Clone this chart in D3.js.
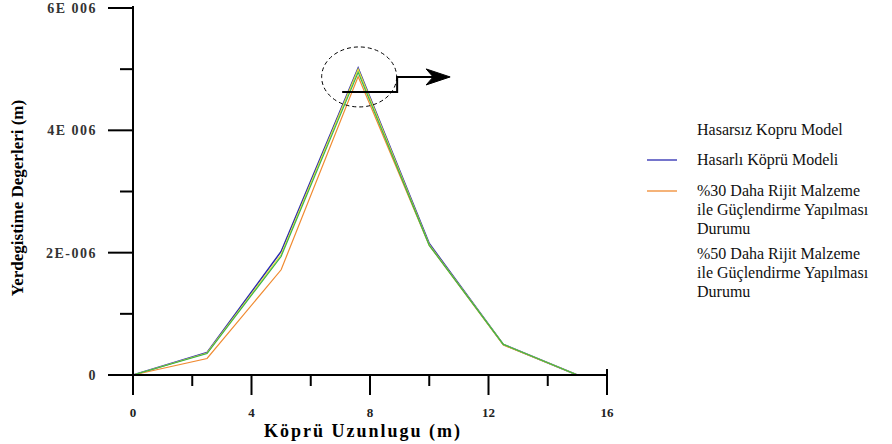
<!DOCTYPE html>
<html>
<head>
<meta charset="utf-8">
<script src="https://cdn.jsdelivr.net/npm/d3@7/dist/d3.min.js"></script>
<style>
  html, body { margin: 0; padding: 0; background: #fff; }
  svg { display: block; }
</style>
</head>
<body>
<svg id="chart" width="892" height="444"></svg>
<script>
// ---- data ----
const positions = [0, 2.5, 5, 7.6, 10, 12.5, 15];          // Köprü Uzunlugu (m)
const hasarsiz  = [0, 0.36e-6, 1.97e-6, 5.0e-6, 2.13e-6, 0.50e-6, 0];
const hasarli   = [0, 0.37e-6, 2.02e-6, 5.02e-6, 2.15e-6, 0.50e-6, 0];
const rijit30   = [0, 0.27e-6, 1.72e-6, 4.88e-6, 2.12e-6, 0.49e-6, 0];
const rijit50   = [0, 0.35e-6, 1.94e-6, 4.95e-6, 2.12e-6, 0.50e-6, 0];
const xTicks = [0, 4, 8, 12, 16];
const xMinorTicks = [2, 6, 10, 14];
const yTicks = [0, 2e-6, 4e-6, 6e-6];
const yTickLabels = ["0", "2E-006", "4E 006", "6E 006"];
const yMinorTicks = [1e-6, 3e-6, 5e-6];
const seriesNames = [
  ["Hasarsız Kopru Model"],
  ["Hasarlı Köprü Modeli"],
  ["%30 Daha Rijit Malzeme", "ile Güçlendirme Yapılması", "Durumu"],
  ["%50 Daha Rijit Malzeme", "ile Güçlendirme Yapılması", "Durumu"]
];
const seriesValues = [hasarsiz, hasarli, rijit30, rijit50];
const seriesColors = ["#e6e23a", "#2b2bb0", "#f08a30", "#3cb44a"];
const legendSwatch = [false, true, true, false];
const xTitle = "Köprü Uzunlugu (m)";
const yTitle = "Yerdegistime Degerleri (m)";

// ---- layout ----
const svg = d3.select("#chart");
const FONT = "Liberation Serif";
const x = d3.scaleLinear().domain([0, 16]).range([133, 607]);
const y = d3.scaleLinear().domain([0, 6e-6]).range([375, 8]);

// series lines
const line = d3.line().x((d, i) => x(positions[i])).y(d => y(d));
const drawOrder = [1, 2, 0, 3];
drawOrder.forEach(k => {
  svg.append("path")
    .datum(seriesValues[k])
    .attr("d", line)
    .attr("fill", "none")
    .attr("stroke", seriesColors[k])
    .attr("stroke-width", k === 1 ? 1.5 : 1.2);
});

// x axis
const xAxisG = svg.append("g").attr("transform", "translate(0,375)");
xAxisG.append("line").attr("x1", 108).attr("x2", 608).attr("y1", 0).attr("y2", 0)
  .attr("stroke", "#000").attr("stroke-width", 2);
xAxisG.selectAll(".xmaj").data(xTicks).enter().append("line")
  .attr("x1", d => x(d)).attr("x2", d => x(d))
  .attr("y1", d => d === 16 ? -6 : 0).attr("y2", 20)
  .attr("stroke", "#000").attr("stroke-width", 2);
xAxisG.selectAll(".xmin").data(xMinorTicks).enter().append("line")
  .attr("x1", d => x(d)).attr("x2", d => x(d)).attr("y1", 0).attr("y2", 11)
  .attr("stroke", "#000").attr("stroke-width", 2);
xAxisG.selectAll(".xlab").data(xTicks).enter().append("text")
  .attr("x", d => x(d)).attr("y", 42)
  .attr("text-anchor", "middle")
  .style("font-family", FONT)
  .attr("font-size", 13).attr("font-weight", "bold").attr("fill", "#222")
  .text(d => d);

// y axis
const yAxisG = svg.append("g");
yAxisG.append("line").attr("x1", 133).attr("x2", 133).attr("y1", 6).attr("y2", 395)
  .attr("stroke", "#000").attr("stroke-width", 2);
yAxisG.selectAll(".ymaj").data(yTicks).enter().append("line")
  .attr("x1", 108).attr("x2", 133).attr("y1", d => y(d)).attr("y2", d => y(d))
  .attr("stroke", "#000").attr("stroke-width", 2);
yAxisG.selectAll(".ymin").data(yMinorTicks).enter().append("line")
  .attr("x1", 120).attr("x2", 133).attr("y1", d => y(d)).attr("y2", d => y(d))
  .attr("stroke", "#000").attr("stroke-width", 2);
yAxisG.selectAll(".ylab").data(yTicks).enter().append("text")
  .attr("x", 97).attr("y", d => y(d) + 5)
  .attr("text-anchor", "end")
  .style("font-family", FONT)
  .attr("font-size", 14).attr("font-weight", "bold").attr("fill", "#333")
  .attr("letter-spacing", 1.5)
  .text((d, i) => yTickLabels[i]);

// axis titles
svg.append("text")
  .attr("x", 363).attr("y", 437)
  .attr("text-anchor", "middle")
  .style("font-family", FONT)
  .attr("font-size", 18).attr("font-weight", "bold")
  .attr("letter-spacing", 2)
  .text(xTitle);
svg.append("text")
  .attr("transform", "translate(23,198) rotate(-90)")
  .attr("text-anchor", "middle")
  .style("font-family", FONT)
  .attr("font-size", 17).attr("font-weight", "bold")
  .text(yTitle);

// annotation: dashed ellipse around peak and arrow
const peakIdx = 3;
const px = x(positions[peakIdx]), py = y(hasarli[peakIdx]);
svg.append("ellipse")
  .attr("cx", px + 1).attr("cy", py + 9)
  .attr("rx", 37.5).attr("ry", 30)
  .attr("fill", "none").attr("stroke", "#000")
  .attr("stroke-width", 1).attr("stroke-dasharray", "4,3");
svg.append("path")
  .attr("d", `M${px - 16},${py + 24} L${px + 39},${py + 24} L${px + 39},${py + 9} L${px + 80},${py + 9}`)
  .attr("fill", "none").attr("stroke", "#000").attr("stroke-width", 2);
svg.append("path")
  .attr("d", `M${px + 92},${py + 9} L${px + 68},${py + 1} L${px + 75},${py + 9} L${px + 68},${py + 17} Z`)
  .attr("fill", "#000").attr("stroke", "#000").attr("stroke-width", 1);

// legend
const legendRows = [130, 160, 191, 254];
const legend = svg.append("g");
seriesNames.forEach((lines, k) => {
  const ty = legendRows[k];
  if (legendSwatch[k]) {
    legend.append("line")
      .attr("x1", 647).attr("x2", 677).attr("y1", ty).attr("y2", ty)
      .attr("stroke", seriesColors[k]).attr("stroke-width", 1.3);
  }
  lines.forEach((t, j) => {
    legend.append("text")
      .attr("x", 697).attr("y", ty + 5 + j * 19)
      .style("font-family", FONT)
      .attr("font-size", 16).attr("fill", "#111")
      .text(t);
  });
});
</script>
</body>
</html>
